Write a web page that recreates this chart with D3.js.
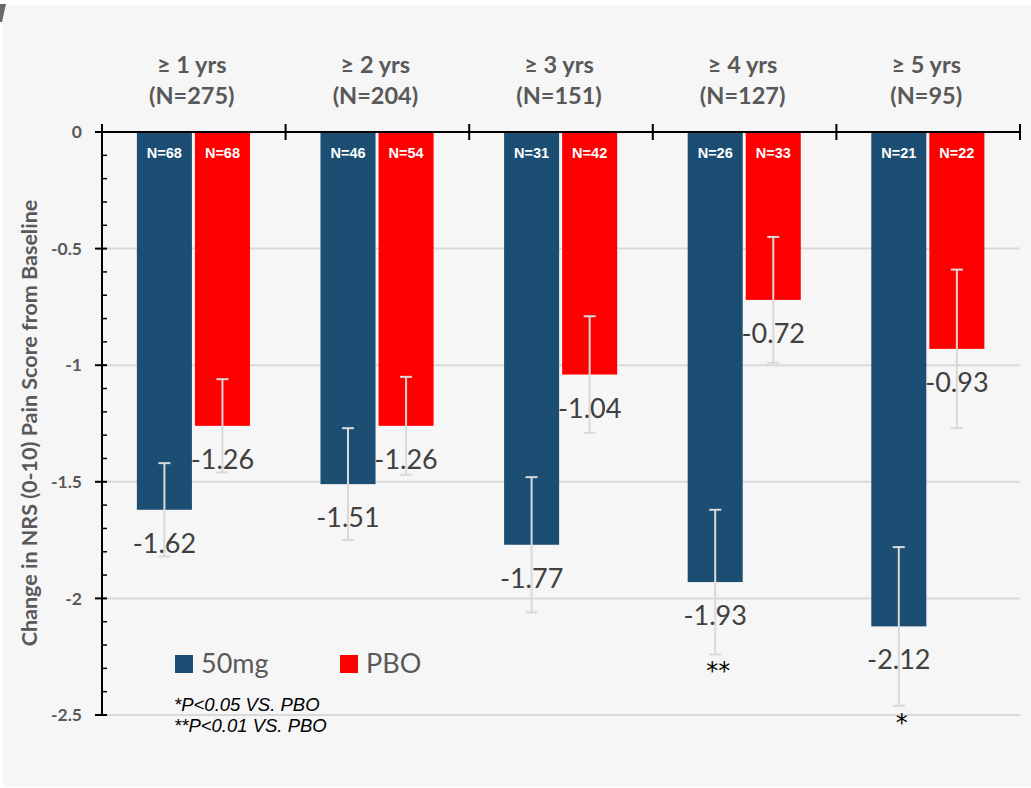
<!DOCTYPE html>
<html>
<head>
<meta charset="utf-8">
<script src="https://cdn.jsdelivr.net/npm/d3@7"></script>
<style>
  html, body { margin: 0; padding: 0; background: #ffffff; }
  svg { display: block; }
</style>
</head>
<body>
<svg id="chart" width="1031" height="788"></svg>
<script>
// Duration groups and their total patient counts
const groups = ["≥ 1 yrs", "≥ 2 yrs", "≥ 3 yrs", "≥ 4 yrs", "≥ 5 yrs"];
const groupN = ["(N=275)", "(N=204)", "(N=151)", "(N=127)", "(N=95)"];

// Treatment arms
const series = ["50mg", "PBO"];
const seriesColors = ["#1c4e74", "#ff0000"];

// Mean change in NRS pain score from baseline
const values50mg = [-1.62, -1.51, -1.77, -1.93, -2.12];
const valuesPBO = [-1.26, -1.26, -1.04, -0.72, -0.93];

// Error bar half-widths
const err50mg = [0.20, 0.24, 0.29, 0.31, 0.34];
const errPBO = [0.20, 0.21, 0.25, 0.27, 0.34];

// Patients per arm
const n50mg = [68, 46, 31, 26, 21];
const nPBO = [68, 54, 42, 33, 22];

// Significance markers for the 50mg arm
const sig50mg = ["", "", "", "**", "*"];

const yTicks = [0, -0.5, -1, -1.5, -2, -2.5];
const yTitle = "Change in NRS (0-10) Pain Score from Baseline";
const footnotes = ["*P<0.05 VS. PBO", "**P<0.01 VS. PBO"];

// Number formatting with a plain hyphen for negatives
const locale = d3.formatLocale({ decimal: ".", thousands: ",", grouping: [3], currency: ["", ""], minus: "-" });
const fmt2 = locale.format(".2f");
const fmtTick = locale.format("");

const svg = d3.select("#chart");
const W = 1031, H = 788;

// Panel background
svg.append("rect").attr("x", 0).attr("y", 0).attr("width", W).attr("height", H).attr("fill", "#ffffff");
svg.append("rect").attr("x", 3).attr("y", 5).attr("width", W - 3).attr("height", H - 6).attr("fill", "#f6f6f6");
svg.append("path").attr("d", "M0,4 L6,4 L2,22 L0,22 Z").attr("fill", "#6a6a6a");

const x0 = d3.scaleBand().domain(groups).range([102, 1020]);
const bw = x0.bandwidth();
const x1 = d3.scaleBand().domain(series)
  .range([bw * 0.19, bw * 0.806]).paddingInner(0.052);
const y = d3.scaleLinear().domain([0, -2.5]).range([132, 715]);

const rows = groups.map((g, i) => ({
  group: g,
  label: groupN[i],
  bars: [
    { s: "50mg", v: values50mg[i], e: err50mg[i], n: n50mg[i], sig: sig50mg[i] },
    { s: "PBO", v: valuesPBO[i], e: errPBO[i], n: nPBO[i], sig: "" }
  ]
}));

const grey = "#595959";
const calibri = "Lato, 'Open Sans', sans-serif";

// Horizontal gridlines
svg.append("g").selectAll("line")
  .data(yTicks.filter(t => t !== 0))
  .join("line")
  .attr("x1", 102).attr("x2", 1020)
  .attr("y1", d => y(d)).attr("y2", d => y(d))
  .attr("stroke", "#d9d9d9").attr("stroke-width", 2);

// Bars
const gGroups = svg.append("g").selectAll("g")
  .data(rows).join("g")
  .attr("transform", d => `translate(${x0(d.group)},0)`);

gGroups.selectAll("rect")
  .data(d => d.bars).join("rect")
  .attr("x", d => x1(d.s))
  .attr("width", x1.bandwidth())
  .attr("y", y(0))
  .attr("height", d => y(d.v) - y(0))
  .attr("fill", (d, i) => seriesColors[i]);

// Error bars
const eb = gGroups.selectAll("g.err")
  .data(d => d.bars).join("g").attr("class", "err")
  .attr("transform", d => `translate(${x1(d.s) + x1.bandwidth() / 2},0)`);
eb.append("line")
  .attr("y1", d => y(d.v + d.e)).attr("y2", d => y(d.v - d.e))
  .attr("stroke", "#d9d9d9").attr("stroke-width", 2);
eb.append("line")
  .attr("x1", -6).attr("x2", 6)
  .attr("y1", d => y(d.v + d.e)).attr("y2", d => y(d.v + d.e))
  .attr("stroke", "#d9d9d9").attr("stroke-width", 2);
eb.append("line")
  .attr("x1", -6).attr("x2", 6)
  .attr("y1", d => y(d.v - d.e)).attr("y2", d => y(d.v - d.e))
  .attr("stroke", "#d9d9d9").attr("stroke-width", 2);

// N labels inside the bars
gGroups.selectAll("text.n")
  .data(d => d.bars).join("text").attr("class", "n")
  .attr("x", d => x1(d.s) + x1.bandwidth() / 2)
  .attr("y", 158)
  .attr("text-anchor", "middle")
  .attr("fill", "#ffffff")
  .attr("font-family", "'Liberation Sans', Arial, sans-serif")
  .attr("font-weight", "bold")
  .attr("font-size", 14.5)
  .text(d => "N=" + d.n);

// Value labels below bar ends
gGroups.selectAll("text.v")
  .data(d => d.bars).join("text").attr("class", "v")
  .attr("x", d => x1(d.s) + x1.bandwidth() / 2)
  .attr("y", d => y(d.v) + 43)
  .attr("text-anchor", "middle")
  .attr("fill", "#404040")
  .attr("font-family", calibri)
  .attr("font-size", 27)
  .text(d => fmt2(d.v));

// Significance stars under the error bars
gGroups.selectAll("text.sig")
  .data(d => d.bars.filter(b => b.sig)).join("text").attr("class", "sig")
  .attr("x", d => x1(d.s) + x1.bandwidth() / 2 + 3)
  .attr("y", d => y(d.v - d.e) + 25)
  .attr("text-anchor", "middle")
  .attr("fill", "#000000")
  .attr("font-family", "'DejaVu Sans', sans-serif")
  .attr("font-size", 24)
  .text(d => d.sig);

// Group headers
const heads = svg.append("g").selectAll("g")
  .data(rows).join("g")
  .attr("transform", d => `translate(${x0(d.group) + bw / 2 - 2},0)`)
  .attr("text-anchor", "middle")
  .attr("fill", grey)
  .attr("font-family", calibri)
  .attr("font-weight", "bold")
  .attr("font-size", 23.5);
heads.append("text").attr("y", 73).text(d => d.group);
heads.append("text").attr("y", 104).text(d => d.label);

// Zero baseline with group dividers
svg.append("line")
  .attr("x1", 95).attr("x2", 1020)
  .attr("y1", y(0)).attr("y2", y(0))
  .attr("stroke", "#000").attr("stroke-width", 2);
const dividers = groups.map(g => x0(g)).concat([x0(groups[groups.length - 1]) + bw]);
svg.append("g").selectAll("line")
  .data(dividers).join("line")
  .attr("x1", d => d).attr("x2", d => d)
  .attr("y1", y(0) - 8).attr("y2", y(0) + 8)
  .attr("stroke", "#000").attr("stroke-width", 2);

// Y axis: major ticks outside, minor ticks inside
const yAxis = svg.append("g").attr("transform", "translate(102,0)");
yAxis.append("line")
  .attr("y1", y(0) - 8).attr("y2", y(-2.5))
  .attr("stroke", "#000").attr("stroke-width", 2);
const minor = d3.range(0, 26).map(i => -i / 10).filter((d, i) => i % 5 !== 0);
yAxis.selectAll("line.minor")
  .data(minor).join("line").attr("class", "minor")
  .attr("x1", 0).attr("x2", 5)
  .attr("y1", d => y(d)).attr("y2", d => y(d))
  .attr("stroke", "#000").attr("stroke-width", 1.5);
yAxis.selectAll("line.major")
  .data(yTicks).join("line").attr("class", "major")
  .attr("x1", -7).attr("x2", 5)
  .attr("y1", d => y(d)).attr("y2", d => y(d))
  .attr("stroke", "#000").attr("stroke-width", 2);
yAxis.selectAll("text")
  .data(yTicks).join("text")
  .attr("x", -20)
  .attr("y", d => y(d))
  .attr("dy", "0.35em")
  .attr("text-anchor", "end")
  .attr("fill", grey)
  .attr("font-family", calibri)
  .attr("font-weight", "bold")
  .attr("font-size", 17.5)
  .text(d => fmtTick(d));

// Y axis title
svg.append("text")
  .attr("transform", "translate(37,423) rotate(-90)")
  .attr("text-anchor", "middle")
  .attr("fill", grey)
  .attr("font-family", calibri)
  .attr("font-weight", "bold")
  .attr("font-size", 21.5)
  .text(yTitle);

// Legend
const legend = svg.append("g").selectAll("g")
  .data(series).join("g")
  .attr("transform", (d, i) => `translate(${175 + i * 165},655)`);
legend.append("rect").attr("width", 18).attr("height", 18)
  .attr("fill", (d, i) => seriesColors[i]);
legend.append("text").attr("x", 26).attr("y", 18)
  .attr("fill", grey)
  .attr("font-family", calibri)
  .attr("font-size", 27)
  .text(d => d);

// Footnotes
svg.append("g").selectAll("text")
  .data(footnotes).join("text")
  .attr("x", 174).attr("y", (d, i) => 711 + i * 21)
  .attr("fill", "#000")
  .attr("font-family", "'Liberation Sans', Arial, sans-serif")
  .attr("font-style", "italic")
  .attr("font-size", 18.5)
  .text(d => d);
</script>
</body>
</html>
